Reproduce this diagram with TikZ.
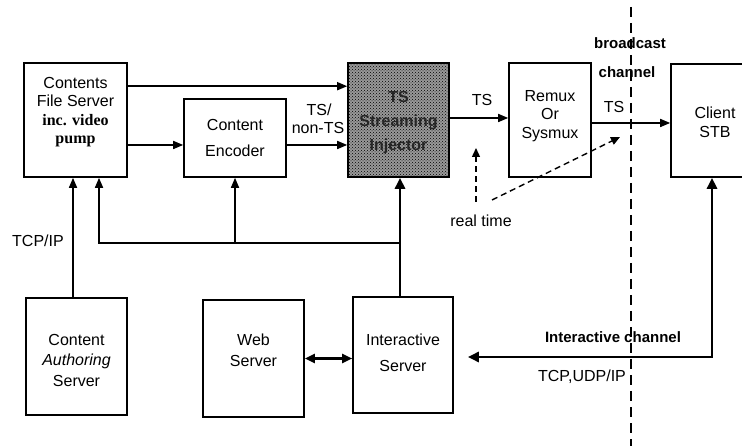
\documentclass[tikz,border=0pt]{standalone}
\usepackage{fontspec}
\setmainfont{Liberation Sans}
\newfontfamily\serifface{Liberation Serif}
\usetikzlibrary{patterns,arrows.meta}

\tikzset{
  box/.style={draw, line width=1.6pt, inner sep=0pt},
  txt/.style={inner sep=0pt, align=center, font=\fontsize{16}{19}\selectfont},
  lbl/.style={inner sep=0pt, font=\fontsize{16}{19}\selectfont},
  blbl/.style={inner sep=0pt, font=\fontsize{15}{18}\selectfont\bfseries},
  conn/.style={line width=1.6pt, -{Triangle[length=10pt,width=8pt]}},
  heavy/.style={line width=2.6pt, -{Triangle[length=11pt,width=10pt]}},
  both/.style={line width=2.2pt, {Triangle[length=10pt,width=9pt]}-{Triangle[length=10pt,width=9pt]}},
  rt/.style={line width=1.4pt, dash pattern=on 6pt off 4pt, -{Triangle[length=9pt,width=8pt]}},
  chan/.style={line width=2.4pt, dash pattern=on 10pt off 6pt},
}

\begin{document}
\begin{tikzpicture}[x=1pt, y=-1pt]
\useasboundingbox (0,0) rectangle (742,446);
\clip (0,0) rectangle (742,446);

% upper row of boxes
\node[box, minimum width=103pt, minimum height=114pt] (cfs) at (75.5,120) {};
\node[txt, font=\fontsize{16}{18.5}\selectfont] (cfst) at (75.5,112)
  {Contents\\File Server\\{\serifface\bfseries inc. video}\\{\serifface\bfseries pump}};

\node[box, minimum width=102pt, minimum height=78pt] (enc) at (235,138) {};
\node[txt, font=\fontsize{16}{26}\selectfont] (enct) at (235,138) {Content\\Encoder};

\node[box, minimum width=101pt, minimum height=114pt,
      preaction={fill=black!40}, pattern=crosshatch dots, pattern color=black] (inj) at (398.5,120) {};
\node[txt, font=\fontsize{16}{24}\selectfont\bfseries, text=black!85] (injt) at (398.5,123) {TS\\Streaming\\Injector};

\node[box, minimum width=82pt, minimum height=114pt] (remux) at (550,120) {};
\node[txt, font=\fontsize{16}{18.5}\selectfont] (remuxt) at (550,116) {Remux\\Or\\Sysmux};

\node[box, minimum width=88pt, minimum height=113pt] (stb) at (715,120.5) {};
\node[txt] (stbt) at (715,122) {Client\\STB};

% lower row of boxes
\node[box, minimum width=101pt, minimum height=117pt] (cas) at (76.5,356.5) {};
\node[txt, font=\fontsize{16}{20.5}\selectfont] (cast) at (76.5,360) {Content\\\textit{Authoring}\\Server};

\node[box, minimum width=101pt, minimum height=117pt] (web) at (253.5,358.5) {};
\node[txt, font=\fontsize{16}{21}\selectfont] (webt) at (253.5,350) {Web\\Server};

\node[box, minimum width=100pt, minimum height=116pt] (inter) at (403,355) {};
\node[txt, font=\fontsize{16}{26}\selectfont] (intert) at (403,353) {Interactive\\Server};

% broadcast / interactive channel boundary
\coordinate (bt) at (631,7);
\coordinate (bb) at (631,446);
\draw[chan] (bt) -- (bb);

% content paths into the injector
\coordinate (cfsout) at ([yshift=-24pt]cfs.north east);
\draw[conn] (cfsout) -- (inj.west |- cfsout);
\coordinate (encin) at ([yshift=-7pt]enc.west);
\coordinate (encout) at ([yshift=-7pt]enc.east);
\draw[conn] (cfs.east |- encin) -- (encin);
\draw[conn] (encout) -- (inj.west |- encout);
\coordinate (injout) at ([yshift=2pt]inj.east);
\draw[conn] (injout) -- (remux.west |- injout);
\coordinate (remuxout) at ([yshift=-3pt]remux.east);
\draw[conn] (remuxout) -- (stb.west |- remuxout);

% authoring server to file server
\coordinate (casup) at (73,298);
\draw[conn] (casup) -- (casup |- cfs.south);

% control bus from the interactive server
\coordinate (busR) at (400,243);
\coordinate (busL) at (99,243);
\draw[heavy] (inter.north -| busR) -- (busR |- inj.south);
\draw[conn] (busR) -- (busL) -- (busL |- cfs.south);
\draw[conn] (busL -| enc) -- (enc.south);

% web server <-> interactive server
\draw[both] (web.east) -- (inter.west |- web.east);

% interactive return channel
\coordinate (icc) at (712,357);
\draw[line width=2.6pt, {Triangle[length=11pt,width=10pt]}-{Triangle[length=11pt,width=10pt]}, shorten >=14pt]
  (icc |- stb.south) -- (icc) -- (inter.east |- icc);

% real-time markers
\coordinate (rtA) at (476,202);
\coordinate (rtB) at (476,148);
\coordinate (rtC) at (492,200);
\coordinate (rtD) at (620,137);
\draw[rt] (rtA) -- (rtB);
\draw[rt] (rtC) -- (rtD);

% labels
\node[lbl] (l1) at (319,110) {TS/};
\node[lbl] (l2) at (318,128) {non-TS};
\node[lbl] (l3) at (482,100) {TS};
\node[lbl] (l4) at (614,107) {TS};
\node[blbl] (l5) at (630,43) {broadcast};
\node[blbl] (l6) at (627,72) {channel};
\node[lbl] (l7) at (38,241) {TCP/IP};
\node[lbl] (l8) at (481,221) {real time};
\node[blbl] (l9) at (613,337) {Interactive channel};
\node[lbl] (l10) at (582,377) {TCP,UDP/IP};
\end{tikzpicture}
\end{document}
